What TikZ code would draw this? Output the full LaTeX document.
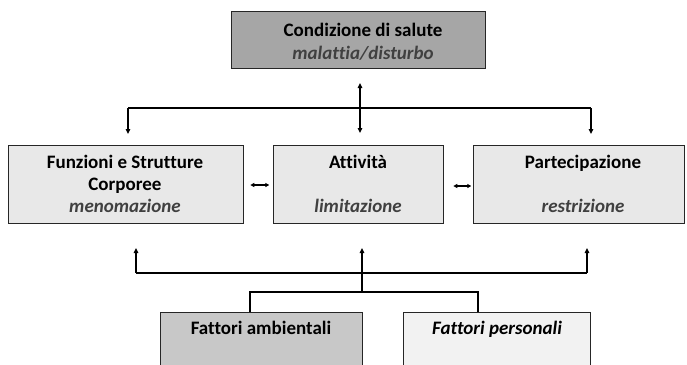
\documentclass[tikz,border=0pt]{standalone}
\usepackage{fontspec}
\setmainfont{Carlito}[Ligatures={NoCommon}]
\usetikzlibrary{arrows.meta}
\definecolor{topgray}{HTML}{A6A6A6}
\definecolor{midgray}{HTML}{E8E8E8}
\definecolor{envgray}{HTML}{C8C8C8}
\definecolor{persgray}{HTML}{F2F2F2}
\definecolor{itgray}{HTML}{404040}
\tikzset{
  box/.style={draw=black!85, line width=1.3pt, anchor=north west, inner sep=0pt},
  conn/.style={line width=1.4pt, black},
  tip/.style={-{Triangle[length=5pt,width=4.5pt]}},
  dtip/.style={{Triangle[length=4pt,width=4pt]}-{Triangle[length=4pt,width=4pt]}, line width=1.1pt},
  lbl/.style={font=\fontsize{19}{22}\selectfont\bfseries, inner sep=0pt, anchor=base},
  ilbl/.style={font=\fontsize{19}{22}\selectfont\bfseries\itshape, text=itgray, inner sep=0pt, anchor=base},
}
\begin{document}
\begin{tikzpicture}[x=1pt,y=-1pt]
\useasboundingbox (0,0) rectangle (687,364);
\begin{scope}
\clip (0,0) rectangle (687,364);
% boxes
\node[box, fill=topgray, minimum width=254pt, minimum height=57pt] (top) at (231,11) {};
\node[box, fill=midgray, minimum width=235pt, minimum height=78pt] (fun) at (8,145) {};
\node[box, fill=midgray, minimum width=170pt, minimum height=78pt] (att) at (273,145) {};
\node[box, fill=midgray, minimum width=211pt, minimum height=78pt] (par) at (473,145) {};
\node[box, fill=envgray, minimum width=202pt, minimum height=70pt] (env) at (160,312) {};
\node[box, fill=persgray, minimum width=187pt, minimum height=70pt] (pers) at (403,312) {};
\end{scope}
% texts
\node[lbl] (t1) at (363,36) {Condizione di salute};
\node[ilbl] (t2) at (363,59) {malattia/disturbo};
\node[lbl] (f1) at (125,168) {Funzioni e Strutture};
\node[lbl] (f2) at (125,190) {Corporee};
\node[ilbl] (f3) at (125,212) {menomazione};
\node[lbl] (a1) at (358,168) {Attività};
\node[ilbl] (a3) at (358,212) {limitazione};
\node[lbl] (p1) at (583,168) {Partecipazione};
\node[ilbl] (p3) at (583,212) {restrizione};
\node[lbl] (e1) at (261,334) {Fattori ambientali};
\node[ilbl, text=black] (e2) at (497,334) {Fattori personali};
% connector coordinates
\coordinate (cT) at (360,83);
\coordinate (cB) at (360,133);
\coordinate (hL) at (128,108);
\coordinate (hR) at (591,108);
\coordinate (dL) at (128,134);
\coordinate (dR) at (591,134);
\draw[conn, tip] (360,108) -- (cT);
\draw[conn, tip] (360,108) -- (cB);
\draw[conn, tip] (hL) -- (dL);
\draw[conn, tip] (hR) -- (dR);
\draw[conn] (hL) -- (hR);
% bottom
\coordinate (uL) at (136,248);
\coordinate (uM) at (362,248);
\coordinate (uR) at (587,248);
\draw[conn] (136,273) -- (587,273);
\draw[conn, tip] (136,273) -- (uL);
\draw[conn, tip] (587,273) -- (uR);
\draw[conn, tip] (362,292) -- (uM);
\draw[conn] (250,312) -- (250,292) -- (478,292) -- (478,312);
% side arrows
\draw[dtip] (fun.east |- 0,185) ++(6,0) -- ++(19,0);
\draw[dtip] (att.east |- 0,186) ++(9,0) -- ++(18,0);
\end{tikzpicture}
\end{document}
